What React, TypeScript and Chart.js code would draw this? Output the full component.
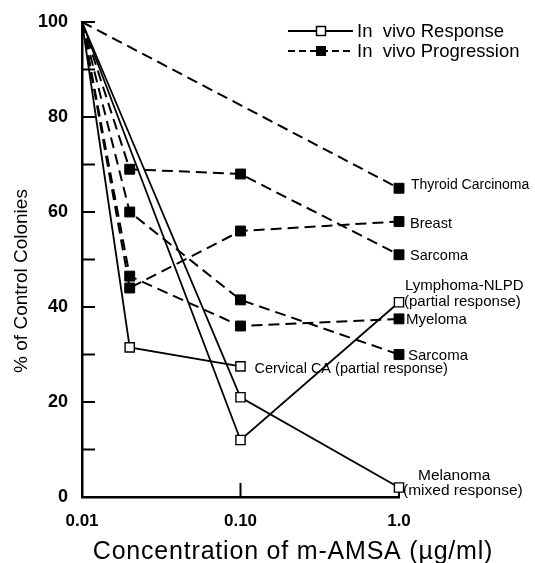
import React, { useEffect, useRef } from "react";
import { Chart, registerables } from "chart.js";

Chart.register(...registerables);

// ---------- data ----------
const concentrations = [0.01, 0.02, 0.1, 1.0];
const xTickValues = [0.01, 0.1, 1.0];
const xTickLabels = ["0.01", "0.10", "1.0"];

// In vivo Progression (dashed line, filled squares); null = not measured
const thyroidCarcinoma = [100, null, null, 65];
const sarcomaUpper = [100, 69, 68, 51];
const breast = [100, 44, 56, 58];
const myeloma = [100, 46.5, 36, 37.5];
const sarcomaLower = [100, 60, 41.5, 30];

// In vivo Response (solid line, open squares)
const cervicalCA = [100, 31.5, 27.5, null];
const lymphomaNLPD = [100, null, 12, 41];
const melanoma = [100, null, 21, 2];

const legendLabels = ["In  vivo Response", "In  vivo Progression"];
const xTitle = "Concentration of m-AMSA (\u00b5g/ml)";
const yTitle = "% of Control Colonies";

type Series = { name: string[]; values: (number | null)[]; response: boolean };
const series: Series[] = [
  { name: ["Cervical CA (partial response)"], values: cervicalCA, response: true },
  { name: ["Lymphoma-NLPD", "(partial response)"], values: lymphomaNLPD, response: true },
  { name: ["Melanoma", "(mixed response)"], values: melanoma, response: true },
  { name: ["Thyroid Carcinoma"], values: thyroidCarcinoma, response: false },
  { name: ["Sarcoma"], values: sarcomaUpper, response: false },
  { name: ["Breast"], values: breast, response: false },
  { name: ["Myeloma"], values: myeloma, response: false },
  { name: ["Sarcoma"], values: sarcomaLower, response: false },
];

// label placement (style): offsets in px relative to the last point, and font sizes
const labelOffsets: number[][][] = [
  [[14, 3]],
  [[6, -16], [5, 0]],
  [[19, -12], [4, 3]],
  [[12, -3]],
  [[11, 1]],
  [[11, 2]],
  [[7, 1]],
  [[9, 1]],
];
const labelSizes = [14.5, 15, 15.5, 14, 14.5, 14.5, 15, 15];

const FONT = '"Liberation Sans", Arial, Helvetica, sans-serif';

const toPoints = (vals: (number | null)[]) =>
  concentrations
    .map((x, i) => ({ x, y: vals[i] }))
    .filter((p) => p.y !== null) as { x: number; y: number }[];

const decorPlugin = {
  id: "decor",
  beforeDatasetsDraw(chart: any) {
    const { ctx, scales } = chart;
    const x = scales.x;
    const y = scales.y;
    ctx.save();
    ctx.strokeStyle = "#000";
    ctx.lineWidth = 2;
    y.ticks.forEach((t: any) => {
      const py = y.getPixelForValue(t.value);
      ctx.beginPath();
      ctx.moveTo(x.left, py);
      ctx.lineTo(x.left + 13, py);
      ctx.stroke();
    });
    xTickValues.slice(1).forEach((v) => {
      const px = x.getPixelForValue(v);
      ctx.beginPath();
      ctx.moveTo(px, y.bottom);
      ctx.lineTo(px, y.bottom - 14);
      ctx.stroke();
    });
    ctx.restore();
  },
  afterDraw(chart: any) {
    const { ctx, scales } = chart;
    const y = scales.y;
    ctx.save();
    ctx.fillStyle = "#000";
    ctx.strokeStyle = "#000";
    ctx.textBaseline = "middle";
    ctx.textAlign = "left";

    // series end labels
    series.forEach((s, i) => {
      const meta = chart.getDatasetMeta(i);
      const last = meta.data[meta.data.length - 1];
      ctx.font = `${labelSizes[i]}px ${FONT}`;
      s.name.forEach((line, j) => {
        const [dx, dy] = labelOffsets[i][j];
        ctx.fillText(line, last.x + dx, last.y + dy);
      });
    });

    // legend
    const lx0 = 288;
    const lx1 = 353;
    const rows = [31, 51];
    ctx.font = `18.5px ${FONT}`;
    rows.forEach((ry, r) => {
      ctx.lineWidth = r === 0 ? 1.8 : 2;
      ctx.setLineDash(r === 0 ? [] : [7, 4]);
      ctx.beginPath();
      ctx.moveTo(lx0, ry);
      ctx.lineTo(lx1, ry);
      ctx.stroke();
      ctx.setLineDash([]);
      const mx = 321;
      if (r === 0) {
        ctx.fillStyle = "#fff";
        ctx.fillRect(mx - 4.5, ry - 4.5, 9, 9);
        ctx.lineWidth = 1.5;
        ctx.strokeRect(mx - 4.5, ry - 4.5, 9, 9);
      } else {
        ctx.fillStyle = "#000";
        ctx.fillRect(mx - 5, ry - 5, 10, 10);
      }
      ctx.fillStyle = "#000";
      ctx.fillText(legendLabels[r], 357, ry + 1);
    });

    // axis titles
    ctx.textAlign = "center";
    ctx.textBaseline = "alphabetic";
    ctx.font = `25px ${FONT}`;
    (ctx as any).letterSpacing = "0.8px";
    ctx.fillText(xTitle, 293, 559);
    (ctx as any).letterSpacing = "0px";
    ctx.save();
    ctx.translate(22, 281);
    ctx.rotate(-Math.PI / 2);
    ctx.textBaseline = "middle";
    ctx.font = `19px ${FONT}`;
    ctx.fillText(yTitle, 0, 0);
    ctx.restore();
    ctx.restore();
  },
};

export default function App() {
  const ref = useRef<HTMLCanvasElement | null>(null);
  useEffect(() => {
    if (!ref.current) return;
    const datasets = series.map((s) => ({
      label: s.name.join(" "),
      data: toPoints(s.values),
      borderColor: "#000",
      borderWidth: s.response ? 1.8 : 2,
      borderDash: s.response ? [] : [11, 6],
      pointStyle: "rect",
      pointRadius: (c: any) => (c.raw && c.raw.x === concentrations[0] ? 0 : s.response ? 6.5 : 7),
      pointBackgroundColor: s.response ? "#fff" : "#000",
      pointBorderColor: "#000",
      pointBorderWidth: s.response ? 1.4 : 1,
      tension: 0,
      fill: false,
      clip: false as any,
    }));
    const chart = new Chart(ref.current, {
      type: "line",
      data: { datasets: datasets as any },
      options: {
        responsive: false,
        animation: false,
        layout: { padding: { left: 0, top: 22, right: 136, bottom: 0 } },
        plugins: { legend: { display: false }, tooltip: { enabled: false } },
        scales: {
          x: {
            type: "logarithmic",
            min: 0.01,
            max: 1,
            afterBuildTicks: (s: any) => {
              s.ticks = xTickValues.map((v) => ({ value: v }));
            },
            afterFit: (s: any) => {
              s.height = 66;
            },
            ticks: {
              autoSkip: false,
              maxRotation: 0,
              padding: 6,
              color: "#000",
              font: { family: FONT, size: 17, weight: "bold" },
              callback: (v: any) => {
                const i = xTickValues.findIndex((t) => Math.abs(t - Number(v)) < 1e-9);
                return i >= 0 ? xTickLabels[i] : "";
              },
            },
            grid: { display: false },
            border: { display: true, color: "#000", width: 2.5 },
          },
          y: {
            min: 0,
            max: 100,
            afterFit: (s: any) => {
              s.width = 82;
            },
            ticks: {
              stepSize: 10,
              padding: 6,
              color: "#000",
              font: { family: FONT, size: 18, weight: "bold" },
              callback: (v: any) => (Number(v) % 20 === 0 ? String(v) : ""),
            },
            grid: { display: false },
            border: { display: true, color: "#000", width: 2.5 },
          },
        },
      },
      plugins: [decorPlugin],
    });
    return () => chart.destroy();
  }, []);
  return (
    <div style={{ position: "absolute", left: 0, top: 0, width: 535, height: 563, background: "#fff" }}>
      <canvas ref={ref} width={535} height={563} style={{ width: 535, height: 563, display: "block" }} />
    </div>
  );
}
